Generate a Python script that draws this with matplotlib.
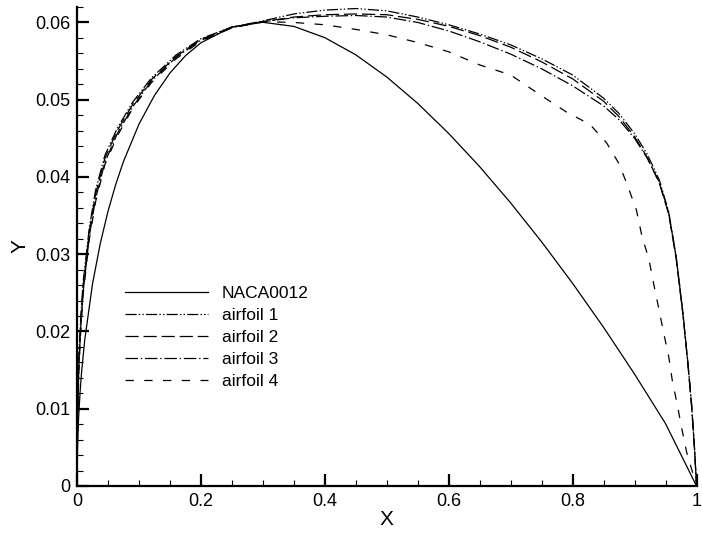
import matplotlib
matplotlib.use("Agg")
import matplotlib.pyplot as plt
from matplotlib.ticker import MultipleLocator

plt.rcParams['font.family'] = ['Liberation Sans', 'DejaVu Sans']
plt.rcParams['lines.scale_dashes'] = False

# NACA0012 upper surface
naca_x = [0, 0.001, 0.0025, 0.005, 0.0075, 0.0125, 0.025, 0.0375, 0.05, 0.0625, 0.075, 0.1, 0.125,
          0.15, 0.175, 0.2, 0.25, 0.3, 0.35, 0.4, 0.45, 0.5, 0.55, 0.6, 0.65, 0.7, 0.75, 0.8,
          0.85, 0.9, 0.95, 1.0]
naca_y = [0, 0.00556, 0.00872, 0.01221, 0.01485, 0.01894, 0.02615, 0.03137, 0.03555, 0.03903,
          0.04200, 0.04683, 0.05055, 0.05345, 0.05569, 0.05737, 0.05941, 0.06002, 0.05949,
          0.05803, 0.05581, 0.05294, 0.04952, 0.04563, 0.04133, 0.03664, 0.03160, 0.02623,
          0.02053, 0.01448, 0.00807, 0.0]

# leading edge stations shared by the modified airfoils
le_x = [0, 0.001, 0.003, 0.006, 0.01, 0.02, 0.03, 0.045, 0.065, 0.09, 0.12, 0.16, 0.2, 0.25]

a1_x = le_x + [0.3, 0.35, 0.4, 0.45, 0.5, 0.55, 0.6, 0.65, 0.7, 0.75, 0.8, 0.85, 0.875, 0.9,
               0.92, 0.94, 0.955, 0.967, 0.978, 0.986, 0.992, 0.997, 1.0]
a1_y = [0, 0.0095, 0.0168, 0.0218, 0.0265, 0.0335, 0.0383, 0.0428, 0.0463, 0.0497, 0.0528,
        0.0558, 0.0579, 0.0594, 0.0602, 0.0611, 0.0616, 0.0618, 0.0615, 0.0607, 0.0597,
        0.0585, 0.0571, 0.0553, 0.0532, 0.0502, 0.0482, 0.0456, 0.0430, 0.0396, 0.0355,
        0.0298, 0.0225, 0.0160, 0.0105, 0.0045, 0.0]

a2_x = a1_x
a2_y = [0, 0.0090, 0.0162, 0.0212, 0.0259, 0.0330, 0.0378, 0.0424, 0.0460, 0.0494, 0.0526,
        0.0556, 0.0578, 0.0594, 0.0601, 0.0607, 0.0610, 0.0611, 0.0610, 0.0604, 0.0595,
        0.0583, 0.0568, 0.0549, 0.0527, 0.0498, 0.0478, 0.0452, 0.0426, 0.0392, 0.0352,
        0.0295, 0.0222, 0.0158, 0.0104, 0.0045, 0.0]

a3_x = a1_x
a3_y = [0, 0.0085, 0.0155, 0.0205, 0.0252, 0.0324, 0.0372, 0.0419, 0.0456, 0.0491, 0.0524,
        0.0555, 0.0577, 0.0593, 0.0601, 0.0606, 0.0608, 0.0609, 0.0607, 0.0600, 0.0589,
        0.0575, 0.0559, 0.0540, 0.0518, 0.0492, 0.0474, 0.0450, 0.0425, 0.0393, 0.0354,
        0.0297, 0.0224, 0.0160, 0.0106, 0.0046, 0.0]

a4_x = le_x + [0.3, 0.35, 0.4, 0.45, 0.5, 0.55, 0.6, 0.65, 0.7, 0.75, 0.79, 0.828, 0.855, 0.875,
               0.89, 0.903, 0.912, 0.923, 0.931, 0.939, 0.947, 0.955, 0.961, 0.969, 0.976,
               0.984, 1.0]
a4_y = [0, 0.0080, 0.0150, 0.0200, 0.0248, 0.0320, 0.0368, 0.0416, 0.0453, 0.0489, 0.0522,
        0.0553, 0.0576, 0.0593, 0.0601, 0.0600, 0.0597, 0.0591, 0.0584, 0.0574, 0.0562,
        0.0545, 0.0532, 0.0505, 0.0484, 0.0468, 0.0444, 0.0417, 0.0386, 0.0357, 0.0323,
        0.0294, 0.0261, 0.0230, 0.0198, 0.0168, 0.0136, 0.0105, 0.0075, 0.0044, 0.0]

labels = ['NACA0012', 'airfoil 1', 'airfoil 2', 'airfoil 3', 'airfoil 4']

fig = plt.figure(figsize=(7.02, 5.34), dpi=100)
ax = fig.add_axes([0.1097, 0.0899, 0.8825, 0.897])

lw = 0.9
ax.plot(naca_x, naca_y, color='black', lw=lw, label=labels[0])
ax.plot(a1_x, a1_y, color='black', lw=lw, dashes=(8, 1.6, 1, 1.6, 1, 1.6), label=labels[1])
ax.plot(a2_x, a2_y, color='black', lw=lw, dashes=(9.5, 3.5), label=labels[2])
ax.plot(a3_x, a3_y, color='black', lw=lw, dashes=(9, 2, 1, 2), label=labels[3])
ax.plot(a4_x, a4_y, color='black', lw=lw, dashes=(6, 7.5), label=labels[4])

ax.set_xlim(0, 1)
ax.set_ylim(0, 0.062)
ax.xaxis.set_minor_locator(MultipleLocator(0.05))
ax.yaxis.set_minor_locator(MultipleLocator(0.002))
ax.set_xticks([0, 0.2, 0.4, 0.6, 0.8, 1.0], ['0', '0.2', '0.4', '0.6', '0.8', '1'])
ax.set_yticks([0, 0.01, 0.02, 0.03, 0.04, 0.05, 0.06],
              ['0', '0.01', '0.02', '0.03', '0.04', '0.05', '0.06'])

for s in ['top', 'right']:
    ax.spines[s].set_visible(False)
for s in ['left', 'bottom']:
    ax.spines[s].set_linewidth(1.6)
ax.tick_params(which='major', direction='in', length=8.5, width=1.6, labelsize=13, pad=5)
ax.tick_params(which='minor', direction='in', length=4.5, width=0.8)

ax.set_xlabel('X', fontsize=15, labelpad=0)
ax.set_ylabel('Y', fontsize=15, labelpad=4)

ax.legend(loc='upper left', bbox_to_anchor=(0.077, 0.418), frameon=False, fontsize=12.5,
          handlelength=4.8, handletextpad=0.8, labelspacing=0.40, borderpad=0, borderaxespad=0)

fig.savefig('out.png', dpi=100)
